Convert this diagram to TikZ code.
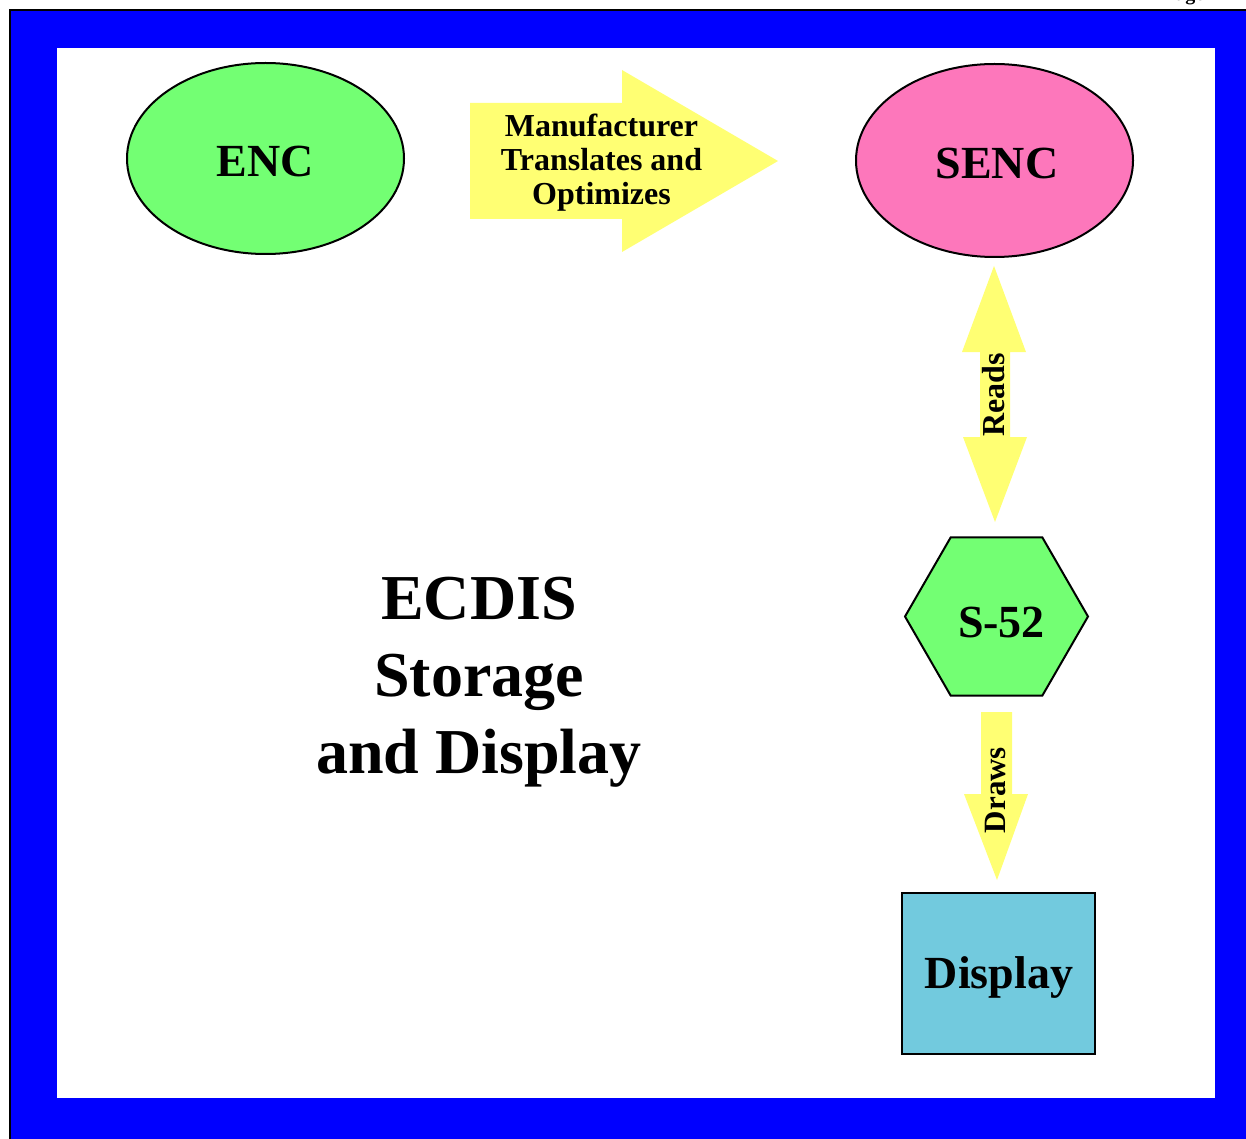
\documentclass[tikz,border=0pt]{standalone}
\usepackage{fontspec}
\setmainfont{Liberation Serif}
\usetikzlibrary{shapes.geometric}
\definecolor{frameblue}{RGB}{0,0,255}
\definecolor{arrowyellow}{RGB}{255,255,115}
\definecolor{nodegreen}{RGB}{115,255,115}
\definecolor{nodepink}{RGB}{253,119,187}
\definecolor{nodecyan}{RGB}{114,202,222}
\begin{document}
\begin{tikzpicture}[x=1pt,y=-1pt,
  shapebox/.style={draw=black, line width=2pt, inner sep=0pt, outer sep=0pt},
  blockarrow/.style={fill=arrowyellow, draw=none},
  bigtext/.style={font=\bfseries\fontsize{46}{55}\selectfont, anchor=base, inner sep=0pt},
  arrowtext/.style={font=\bfseries\fontsize{32}{34}\selectfont, inner sep=0pt, align=center},
  titletext/.style={font=\bfseries\fontsize{64}{77}\selectfont, inner sep=0pt, align=center, anchor=base}]
\useasboundingbox (0,0) rectangle (1246,1139);
% frame
\fill[black] (9,9) rectangle (1246,1139);
\fill[frameblue] (11,11) rectangle (1246,1139);
\fill[white] (57,48) rectangle (1215,1098);
% header fragment
\node[anchor=base west, inner sep=0pt, font=\bfseries\fontsize{20}{24}\selectfont] (hdr) at (1163,0.5) {Page};
% nodes
\node[shapebox, ellipse, fill=nodegreen, minimum width=277pt, minimum height=191pt] (enc) at (265.5,158.5) {};
\node[bigtext] (enclbl) at (265.5,177) {ENC};
\node[shapebox, ellipse, fill=nodepink, minimum width=277pt, minimum height=193pt] (senc) at (994.5,160.5) {};
\node[bigtext] (senclbl) at (997,179) {SENC};
\node[shapebox, regular polygon, regular polygon sides=6, fill=nodegreen, minimum size=183pt] (s52) at (996.5,616.5) {};
\node[bigtext] (s52lbl) at (1001.5,637) {S-52};
\node[shapebox, rectangle, fill=nodecyan, minimum width=193pt, minimum height=161pt] (disp) at (998.5,973.5) {};
\node[bigtext] (displbl) at (999,988) {Display};
% block arrows
\fill[blockarrow] (470,103) -- (622,103) -- (622,70) -- (778,161) -- (622,252) -- (622,219) -- (470,219) -- cycle;
\node[arrowtext] (mfr) at (601.5,163) {Manufacturer\\Translates and\\Optimizes};
\fill[blockarrow] (994,266) -- (1026,352) -- (1010,352) -- (1010,437) -- (1027,437) -- (995,522) -- (963,437) -- (980,437) -- (980,352) -- (962,352) -- cycle;
\node[arrowtext, rotate=90] (reads) at (994,395) {Reads};
\fill[blockarrow] (981,712) -- (1012,712) -- (1012,794) -- (1028,794) -- (997,880) -- (964,794) -- (981,794) -- cycle;
\node[font=\bfseries\fontsize{31}{34}\selectfont, inner sep=0pt, rotate=90] (draws) at (995,790) {Draws};
% title
\node[titletext] (title) at (479,773) {ECDIS\\Storage\\and Display};
\end{tikzpicture}
\end{document}
